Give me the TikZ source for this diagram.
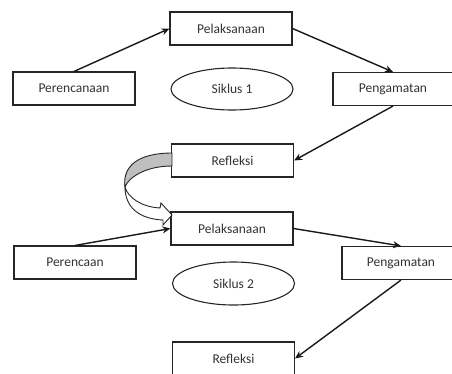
\documentclass[tikz,border=0pt]{standalone}
\usepackage{fontspec}
\setmainfont{Carlito}
\usetikzlibrary{shapes.geometric,arrows.meta}

\begin{document}
\begin{tikzpicture}[x=1pt,y=-1pt]
  % Styling
  \tikzset{
    box/.style={
      rectangle,
      minimum width=122pt,
      minimum height=33pt,
      fill=white,
      draw=black!85,
      line width=1.1pt,
      text=black!80,
      font=\fontsize{13.5}{16}\selectfont
    },
    cycle/.style={
      ellipse,
      minimum width=122pt,
      minimum height=42pt,
      draw=black!85,
      line width=1.1pt,
      text=black!80,
      font=\fontsize{13.5}{16}\selectfont
    },
    arrow/.style={
      -{Stealth[length=8pt,width=7pt]},
      line width=1.4pt,
      black!90
    }
  }
  \useasboundingbox (0,0) rectangle (452,373);
  \clip (0,0) rectangle (452,373);

  % ===== Siklus 1 =====
  \node[box] (pel1) at (231,28.5) {Pelaksanaan};
  \node[box] (per1) at (74,88.5) {Perencanaan};
  \node[cycle] (sik1) at (232,89) {Siklus 1};
  \node[box, minimum width=120pt] (pen1) at (393,89) {Pengamatan};
  \node[box] (ref1) at (232.5,160.5) {Refleksi};

  % Arrows of the cycle
  \draw[arrow] (per1.north) -- (pel1.west);
  \draw[arrow] (pel1.east) -- (pen1.north);
  \draw[arrow] (pen1.south) -- (ref1.east);

  % ===== Siklus 2 =====
  \node[box] (pel2) at (232,228.5) {Pelaksanaan};
  \node[box] (per2) at (75,262.5) {Perencaan};
  \node[cycle, minimum height=43pt] (sik2) at (233.5,283.5) {Siklus 2};
  \node[box, minimum width=118pt] (pen2) at (401,263) {Pengamatan};
  \node[box] (ref2) at (233.5,358.5) {Refleksi};

  % Arrows of the cycle
  \draw[arrow] (per2.north) -- (pel2.west);
  \draw[arrow] (pel2.east) -- (pen2.north);
  \draw[arrow] (pen2.south) -- (ref2.east);

  % ===== Curved arrow from Refleksi to Siklus 2 =====
  \filldraw[fill=black!25, draw=black!85, line width=0.9pt]
    (172,153) .. controls (140,153) and (122,165) .. (125,187)
    .. controls (128,178) and (145,166) .. (172,166) -- cycle;
  \filldraw[fill=white, draw=black!85, line width=0.9pt]
    (125,187) .. controls (128,198) and (142,207) .. (160,208)
    -- (161,203) -- (172,215) -- (163,225) -- (163,220)
    .. controls (140,219) and (125,208) .. (125,187) -- cycle;
\end{tikzpicture}
\end{document}
